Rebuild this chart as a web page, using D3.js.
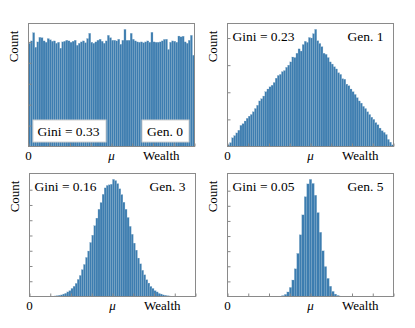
<!DOCTYPE html>
<html>
<head>
<meta charset="utf-8">
<script src="https://cdn.jsdelivr.net/npm/d3@7"></script>
<style>
  body { margin: 0; background: #fff; }
  text { font-family: "Liberation Serif", "Times New Roman", serif; }
</style>
</head>
<body>
<div id="chart"></div>
<script>
// bin counts, wealth in units of mu
let gen0 = [1234, 1262, 1360, 1186, 1250, 1305, 1300, 1262, 1246, 1290,
            1275, 1258, 1262, 1234, 1246, 1175, 1250, 1258, 1270, 1262,
            1246, 1258, 1270, 1210, 1234, 1250, 1262, 1240, 1290, 1353,
            1246, 1234, 1250, 1270, 1282, 1258, 1234, 1262, 1329, 1300,
            1270, 1270, 1262, 1282, 1222, 1270, 1400, 1270, 1270, 1353,
            1282, 1262, 1250, 1246, 1250, 1240, 1250, 1262, 1246, 1365,
            1250, 1246, 1246, 1250, 1262, 1280, 1282, 1160, 1246, 1262,
            1258, 1246, 1320, 1310, 1318, 1250, 1234, 1270, 1329, 1091];
let gen1 = [30, 70, 160, 200, 250, 300, 390, 420, 470, 520,
            560, 590, 640, 700, 760, 840, 880, 930, 1010, 1060,
            1100, 1130, 1180, 1260, 1310, 1330, 1380, 1400, 1460, 1500,
            1560, 1650, 1640, 1720, 1800, 1760, 1880, 1940, 1920, 2010,
            2000, 2080, 2160, 1950, 1900, 1840, 1720, 1700, 1640, 1560,
            1520, 1470, 1430, 1360, 1330, 1250, 1240, 1150, 1120, 1060,
            1010, 960, 900, 840, 800, 740, 700, 640, 590, 540,
            500, 440, 400, 340, 290, 260, 220, 130, 80, 30];
let gen3 = [18, 27, 40, 52, 80, 104, 150, 190, 265, 335,
            430, 560, 690, 880, 1050, 1280, 1490, 1770, 2010, 2320,
            2570, 2860, 3080, 3350, 3560, 3640, 3660, 3680, 3840, 3800,
            3700, 3530, 3340, 3090, 2860, 2590, 2300, 2040, 1750, 1520,
            1260, 1070, 860, 710, 550, 440, 330, 265, 190, 150,
            100, 80, 52, 40, 25, 18];
let gen5 = [9, 25, 60, 140, 300, 600, 1090, 1830, 2850, 4080,
            5400, 6600, 7450, 7750, 7480, 6700, 5550, 4250, 3020, 1980,
            1200, 680, 340, 160, 70, 28, 10];

let binStart = [0, 0, 0.3, 0.595];
let binStep = [0.025, 0.025, 0.025, 0.03];
let ginis = ["Gini = 0.33", "Gini = 0.23", "Gini = 0.16", "Gini = 0.05"];
let gens = ["Gen. 0", "Gen. 1", "Gen. 3", "Gen. 5"];
let yTicks = [[250, 500, 750, 1000, 1250],
              [500, 1000, 1500, 2000],
              [500, 1000, 1500, 2000, 2500, 3000, 3500],
              [1000, 2000, 3000, 4000, 5000, 6000, 7000]];
let xTicks = [0, 0.25, 0.5, 0.75, 1, 1.25, 1.5, 1.75, 2];
let xLabels = ["0", "\u03bc", "Wealth"];
let xLabelAt = [0, 1, 1.6];

let series = [gen0, gen1, gen3, gen5];
let origins = [[28.5, 23.5], [227.5, 23.5], [29.5, 173.5], [227.5, 173.5]];
let width = 166, height = 123;

let svg = d3.select('#chart')
  .append('svg')
  .attr('width', 415)
  .attr('height', 328);

series.forEach((counts, p) => {
  let g = svg.append('g')
    .attr('transform', 'translate(' + origins[p][0] + ', ' + origins[p][1] + ')');

  let xS = d3.scaleLinear().domain([0, 2]).range([0, width]);
  let yS = d3.scaleLinear().domain([0, d3.max(counts) * 1.05]).range([height, 0]);
  let barW = xS(binStep[p]) - xS(0);

  g.selectAll('rect.bar')
    .data(counts)
    .enter()
    .append('rect')
    .attr('class', 'bar')
    .attr('x', (d, i) => xS(binStart[p] + i * binStep[p]))
    .attr('y', d => yS(d))
    .attr('width', barW)
    .attr('height', d => height - yS(d))
    .style('fill', '#3d7db0')
    .style('stroke', '#8fb2cc')
    .style('stroke-width', 0.25);

  // ticks inside the frame, no numbers
  g.append('g')
    .attr('transform', 'translate(0, ' + height + ')')
    .call(d3.axisBottom(xS).tickValues(xTicks).tickSize(-3).tickFormat(''))
    .call(a => a.select('.domain').remove())
    .call(a => a.selectAll('line').attr('stroke', '#888'));

  g.append('g')
    .call(d3.axisLeft(yS).tickValues(yTicks[p]).tickSize(-3).tickFormat(''))
    .call(a => a.select('.domain').remove())
    .call(a => a.selectAll('line').attr('stroke', '#888'));

  g.append('rect')
    .attr('width', width)
    .attr('height', height)
    .style('fill', 'none')
    .style('stroke', '#8a8a8a');

  g.selectAll('text.xl')
    .data(xLabels)
    .enter()
    .append('text')
    .attr('class', 'xl')
    .attr('x', (d, i) => xS(xLabelAt[i]))
    .attr('y', height + 13.5)
    .attr('text-anchor', 'middle')
    .style('font-size', '13px')
    .style('font-style', (d, i) => i == 1 ? 'italic' : 'normal')
    .text(d => d);

  g.append('text')
    .attr('transform', 'translate(-11, 7) rotate(-90)')
    .attr('text-anchor', 'end')
    .style('font-size', '13px')
    .text('Count');

  let boxed = p == 0;
  let ty = boxed ? height - 10.5 : 17;

  let gini = g.append('text')
    .attr('x', boxed ? 9 : 5)
    .attr('y', ty)
    .style('font-size', '13.5px')
    .text(ginis[p]);

  let gen = g.append('text')
    .attr('x', width - (boxed ? 11.5 : 10))
    .attr('y', ty)
    .attr('text-anchor', 'end')
    .style('font-size', '13.5px')
    .text(gens[p]);

  if (boxed) {
    [gini, gen].forEach(t => {
      let bb = t.node().getBBox();
      g.insert('rect', () => t.node())
        .attr('x', Math.round(bb.x - 5.5) + 0.5)
        .attr('y', Math.round(ty - 16.5) + 0.5)
        .attr('width', Math.round(bb.width + 11))
        .attr('height', 22)
        .style('fill', '#fff')
        .style('stroke', '#d0d0d0');
    });
  }
});
</script>
</body>
</html>
